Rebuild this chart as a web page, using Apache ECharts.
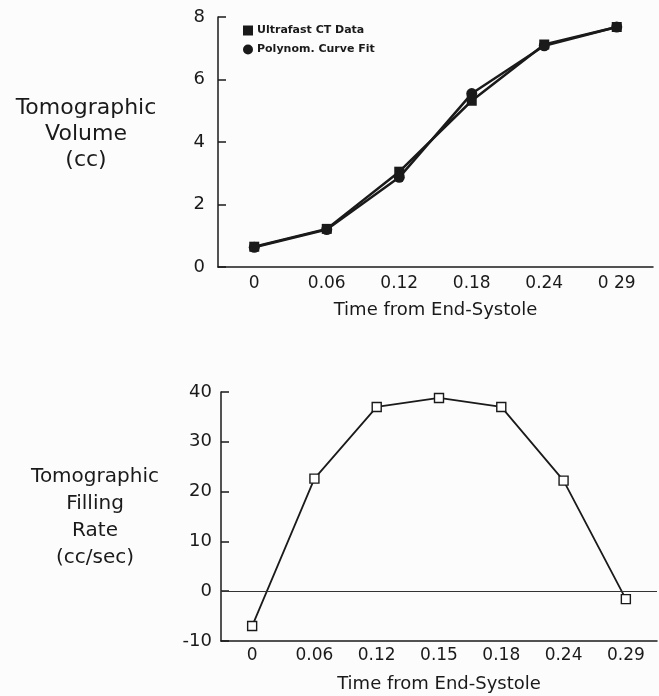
<!DOCTYPE html>
<html>
<head>
<meta charset="utf-8">
<script src="https://cdn.jsdelivr.net/npm/echarts@6/dist/echarts.min.js"></script>
<style>
html,body{margin:0;padding:0;background:#fcfcfc;}
#chart{width:659px;height:696px;}
</style>
</head>
<body>
<div id="chart"></div>
<script>
// top panel: volume
var volTimes = ['0', '0.06', '0.12', '0.18', '0.24', '0 29'];
var ctData = [0.65, 1.22, 3.05, 5.32, 7.12, 7.68];
var curveFit = [0.63, 1.2, 2.87, 5.55, 7.08, 7.68];
// bottom panel: filling rate
var rateTimes = ['0', '0.06', '0.12', '0.15', '0.18', '0.24', '0.29'];
var fillRate = [-7, 22.6, 37, 38.8, 37, 22.2, -1.6];

var ink = '#1a1a1a';
var font = '"DejaVu Sans", Verdana, sans-serif';

var option = {
  backgroundColor: '#fcfcfc',
  animation: false,
  textStyle: { fontFamily: font, color: ink },
  legend: {
    data: [
      { name: 'Ultrafast CT Data', icon: 'rect' },
      { name: 'Polynom. Curve Fit', icon: 'circle' }
    ],
    orient: 'vertical',
    left: 238, top: 20,
    itemWidth: 10, itemHeight: 10, itemGap: 8,
    textStyle: { fontSize: 11, fontWeight: 'bold', color: ink, fontFamily: font, padding: [0, 0, 0, -1] }
  },
  grid: [
    { left: 218, top: 17, width: 435, height: 250 },
    { left: 221, top: 392, width: 436, height: 249 }
  ],
  xAxis: [
    {
      gridIndex: 0, type: 'category', data: volTimes, boundaryGap: true,
      name: 'Time from End-Systole', nameLocation: 'middle', nameGap: 34,
      nameTextStyle: { fontSize: 18, color: ink, fontFamily: font },
      axisLine: { lineStyle: { color: ink, width: 1.5 } },
      axisTick: { alignWithLabel: true, inside: true, length: 12, lineStyle: { color: ink, width: 1.5 } },
      axisLabel: { fontSize: 17, color: ink, margin: 8 }
    },
    {
      gridIndex: 1, type: 'category', data: rateTimes, boundaryGap: true,
      name: 'Time from End-Systole', nameLocation: 'middle', nameGap: 34,
      nameTextStyle: { fontSize: 18, color: ink, fontFamily: font },
      axisLine: { onZero: false, lineStyle: { color: ink, width: 1.5 } },
      axisTick: { alignWithLabel: true, inside: true, length: 11, lineStyle: { color: ink, width: 1.5 } },
      axisLabel: { fontSize: 17, color: ink, margin: 6 }
    }
  ],
  yAxis: [
    {
      gridIndex: 0, type: 'value', min: 0, max: 8, interval: 2,
      axisLine: { show: true, lineStyle: { color: ink, width: 1.5 } },
      axisTick: { show: true, inside: true, length: 8, lineStyle: { color: ink, width: 1.5 } },
      axisLabel: { fontSize: 18, color: ink, margin: 13 },
      splitLine: { show: false }
    },
    {
      gridIndex: 1, type: 'value', min: -10, max: 40, interval: 10,
      axisLine: { show: true, lineStyle: { color: ink, width: 1.5 } },
      axisTick: { show: true, inside: true, length: 8, lineStyle: { color: ink, width: 1.5 } },
      axisLabel: { fontSize: 18, color: ink, margin: 9 },
      splitLine: { show: false }
    }
  ],
  graphic: [
    { type: 'text', x: 86, y: 95, style: { text: 'Tomographic\nVolume\n(cc)', font: '22px ' + font, fill: ink, align: 'center', textAlign: 'center', verticalAlign: 'top', lineHeight: 26 } },
    { type: 'text', x: 95, y: 463, style: { text: 'Tomographic\nFilling\nRate\n(cc/sec)', font: '20px ' + font, fill: ink, align: 'center', textAlign: 'center', verticalAlign: 'top', lineHeight: 27 } }
  ],
  series: [
    {
      name: 'Ultrafast CT Data', type: 'line', xAxisIndex: 0, yAxisIndex: 0,
      data: ctData, symbol: 'rect', symbolSize: 10,
      lineStyle: { color: ink, width: 2.5 }, itemStyle: { color: ink }
    },
    {
      name: 'Polynom. Curve Fit', type: 'line', xAxisIndex: 0, yAxisIndex: 0,
      data: curveFit, symbol: 'circle', symbolSize: 11,
      lineStyle: { color: ink, width: 2.5 }, itemStyle: { color: ink }
    },
    {
      name: 'Filling Rate', type: 'line', xAxisIndex: 1, yAxisIndex: 1,
      data: fillRate, symbol: 'rect', symbolSize: 9,
      lineStyle: { color: ink, width: 1.8 },
      itemStyle: { color: '#ffffff', borderColor: ink, borderWidth: 1.4 },
      markLine: {
        silent: true, symbol: 'none', label: { show: false },
        lineStyle: { color: '#333', width: 1, type: 'solid' },
        data: [{ yAxis: 0 }]
      }
    }
  ]
};

var myChart = echarts.init(document.getElementById('chart'));
myChart.setOption(option);
</script>
</body>
</html>
